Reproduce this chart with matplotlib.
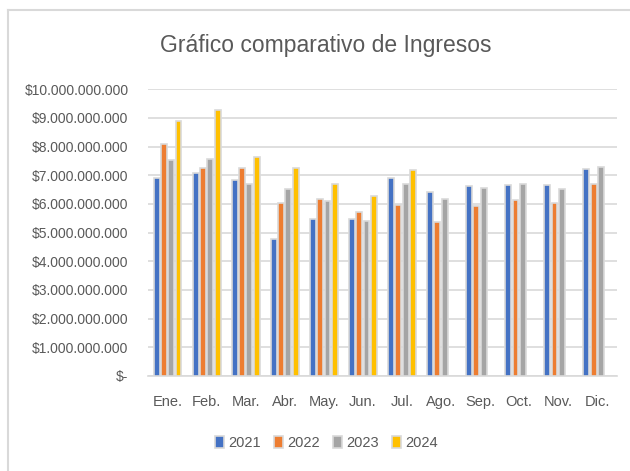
import numpy as np
import matplotlib.pyplot as plt
from matplotlib.ticker import FuncFormatter, MultipleLocator
from matplotlib.lines import Line2D

# datos (miles de millones)
meses = ['Ene.', 'Feb.', 'Mar.', 'Abr.', 'May.', 'Jun.', 'Jul.', 'Ago.', 'Sep.', 'Oct.', 'Nov.', 'Dic.']
v2021 = [6.89, 7.06, 6.83, 4.78, 5.47, 5.46, 6.89, 6.43, 6.62, 6.67, 6.67, 7.23]
v2022 = [8.08, 7.24, 7.24, 6.03, 6.17, 5.71, 5.97, 5.37, 5.92, 6.14, 6.04, 6.71]
v2023 = [7.52, 7.58, 6.71, 6.52, 6.10, 5.41, 6.68, 6.18, 6.56, 6.68, 6.52, 7.29]
v2024 = [8.88, 9.27, 7.64, 7.24, 6.71, 6.27, 7.19]

series = [('2021', v2021, '#4472C4'), ('2022', v2022, '#ED7D31'),
          ('2023', v2023, '#A5A5A5'), ('2024', v2024, '#FFC000')]

plt.rcParams['font.family'] = ['Liberation Sans Narrow', 'Liberation Sans', 'DejaVu Sans']
gris = '#595959'

fig = plt.figure(figsize=(6.3, 4.71), dpi=100)
# marco del grafico (solo se ven borde izquierdo y superior)
x0, y0 = 7.5 / 630, 1 - 9.5 / 471
fig.add_artist(Line2D([x0, x0], [0, y0], transform=fig.transFigure, color='#d9d9d9', linewidth=1.5))
fig.add_artist(Line2D([x0, 1], [y0, y0], transform=fig.transFigure, color='#d9d9d9', linewidth=1.5))

ax = fig.add_axes([0.235, 0.2017, 0.744, 0.609])
x = np.arange(len(meses))
paso = 0.187
for i, (nombre, vals, color) in enumerate(series):
    pos = x[:len(vals)] + (i - 1.5) * paso
    ax.bar(pos, np.array(vals) * 1e9, width=0.15, color=color, edgecolor='#d9d9d9',
           linewidth=1.2, label=nombre, zorder=3)

ax.set_xlim(-0.5, len(meses) - 0.5)
ax.set_ylim(0, 10e9)
ax.yaxis.set_major_locator(MultipleLocator(1e9))


def pesos(v, p):
    if v == 0:
        return '$-'
    return '$' + f'{v:,.0f}'.replace(',', '.')


ax.yaxis.set_major_formatter(FuncFormatter(pesos))
ax.grid(axis='y', color='#d9d9d9', linewidth=1.2, zorder=0)
for s in ['top', 'right', 'left']:
    ax.spines[s].set_visible(False)
ax.spines['bottom'].set_color('#d9d9d9')
ax.spines['bottom'].set_linewidth(1.2)
ax.tick_params(length=0, colors=gris)
ax.tick_params(axis='y', pad=14, labelsize=10)
ax.tick_params(axis='x', pad=14, labelsize=10.5)
ax.set_xticks(x)
ax.set_xticklabels(meses)

fig.text(0.517, 0.903, 'Gráfico comparativo de Ingresos', ha='center', va='center',
         fontsize=16.5, color=gris)

ax.legend(loc='center', bbox_to_anchor=(0.518, 0.06), bbox_transform=fig.transFigure,
          ncol=4, frameon=False, fontsize=10.5, handlelength=0.6, handleheight=0.9,
          handletextpad=0.3, columnspacing=0.9, labelcolor=gris)

fig.savefig('out.png', dpi=100)
